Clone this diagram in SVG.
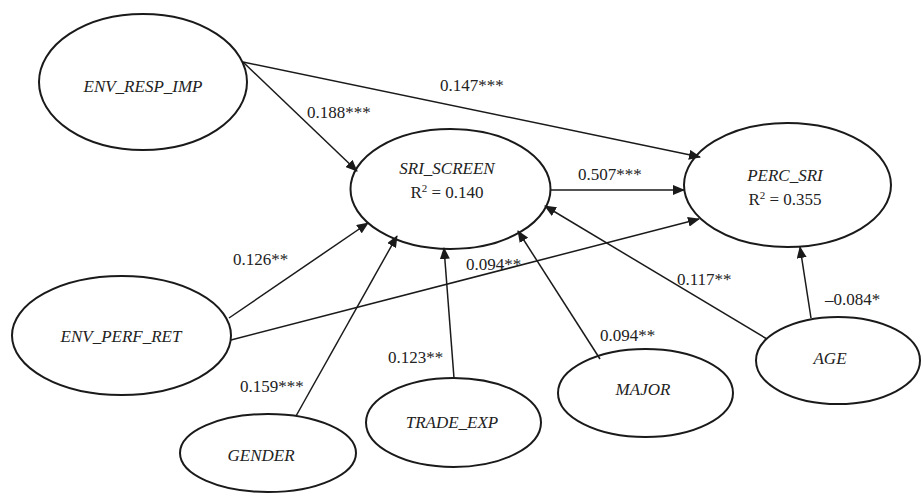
<svg xmlns="http://www.w3.org/2000/svg" width="922" height="499" viewBox="0 0 922 499">
<style>
.node ellipse{fill:#fff;stroke:#1a1a1a;stroke-width:2}
.name{font-family:"Liberation Serif","Times New Roman",serif;font-style:italic;font-size:17px;fill:#222;text-anchor:middle}
.r2{font-family:"Liberation Serif","Times New Roman",serif;font-size:17px;fill:#222;text-anchor:middle}
.lbl{font-family:"Liberation Serif","Times New Roman",serif;font-size:17px;fill:#222}
#edges line{stroke:#1a1a1a;stroke-width:1.5;fill:none}
</style>
<defs>
<marker id="arr" markerUnits="userSpaceOnUse" markerWidth="12" markerHeight="10" refX="11" refY="5" orient="auto">
<path d="M0,0 L12,5 L0,10 Z" fill="#1a1a1a"/>
</marker>
</defs>
<rect width="922" height="499" fill="#fff"/>
<g id="nodes">
<g id="ENV_RESP_IMP" class="node"><ellipse cx="143" cy="82" rx="104" ry="68"/><text class="name" x="143" y="92">ENV_RESP_IMP</text></g>
<g id="SRI_SCREEN" class="node"><ellipse cx="450.5" cy="189" rx="100" ry="60"/><text class="name" x="447" y="174">SRI_SCREEN</text><text class="r2" x="447" y="198">R<tspan font-size="11" dy="-6">2</tspan><tspan dy="6"> = 0.140</tspan></text></g>
<g id="PERC_SRI" class="node"><ellipse cx="787.5" cy="185" rx="103.5" ry="62"/><text class="name" x="785" y="181">PERC_SRI</text><text class="r2" x="785" y="205">R<tspan font-size="11" dy="-6">2</tspan><tspan dy="6"> = 0.355</tspan></text></g>
<g id="ENV_PERF_RET" class="node"><ellipse cx="121.5" cy="335.5" rx="109.5" ry="59.5"/><text class="name" x="121" y="342">ENV_PERF_RET</text></g>
<g id="GENDER" class="node"><ellipse cx="268" cy="453" rx="88" ry="39"/><text class="name" x="261" y="461">GENDER</text></g>
<g id="TRADE_EXP" class="node"><ellipse cx="453.5" cy="422.5" rx="87.5" ry="44.5"/><text class="name" x="452" y="428">TRADE_EXP</text></g>
<g id="MAJOR" class="node"><ellipse cx="645.5" cy="393" rx="87.5" ry="44"/><text class="name" x="643" y="395">MAJOR</text></g>
<g id="AGE" class="node"><ellipse cx="838" cy="360.5" rx="82" ry="43.5"/><text class="name" x="830" y="364">AGE</text></g>
</g>
<g id="edges">
<line x1="243" y1="62" x2="357" y2="171" marker-end="url(#arr)"/>
<line x1="243" y1="62" x2="700" y2="157" marker-end="url(#arr)"/>
<line x1="550" y1="190" x2="684" y2="190" marker-end="url(#arr)"/>
<line x1="229" y1="318" x2="368" y2="223" marker-end="url(#arr)"/>
<line x1="231" y1="340" x2="699" y2="219" marker-end="url(#arr)"/>
<line x1="296" y1="416" x2="397" y2="236" marker-end="url(#arr)"/>
<line x1="454" y1="378" x2="444" y2="248" marker-end="url(#arr)"/>
<line x1="600" y1="359" x2="518" y2="231" marker-end="url(#arr)"/>
<line x1="767" y1="339" x2="545" y2="206" marker-end="url(#arr)"/>
<line x1="811" y1="318" x2="800" y2="247" marker-end="url(#arr)"/>
</g>
<g id="labels">
<text class="lbl" x="307" y="118">0.188***</text>
<text class="lbl" x="440" y="91">0.147***</text>
<text class="lbl" x="578" y="180">0.507***</text>
<text class="lbl" x="233" y="265">0.126**</text>
<text class="lbl" x="466" y="270">0.094**</text>
<text class="lbl" x="677" y="285">0.117**</text>
<text class="lbl" x="825" y="305">–0.084*</text>
<text class="lbl" x="600" y="341">0.094**</text>
<text class="lbl" x="240" y="392">0.159***</text>
<text class="lbl" x="388" y="363">0.123**</text>
</g>
</svg>
